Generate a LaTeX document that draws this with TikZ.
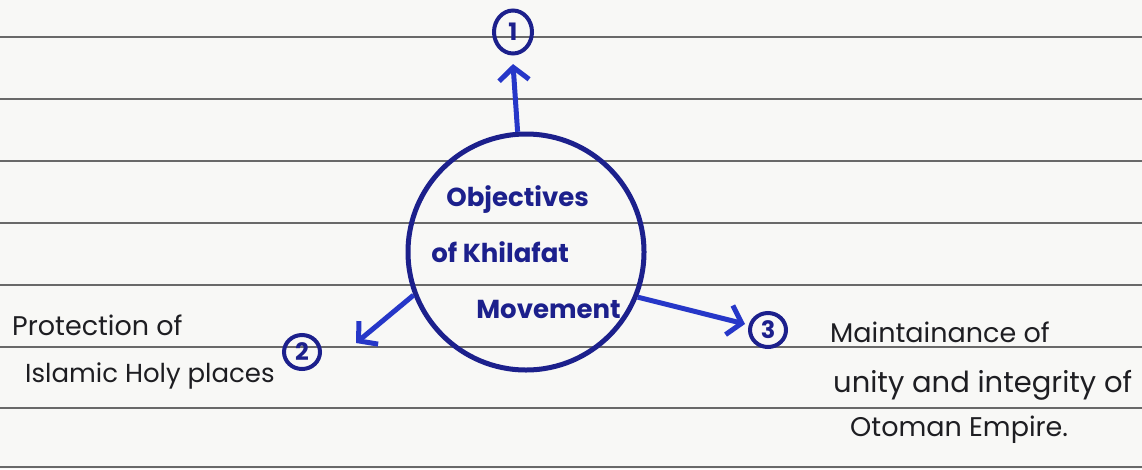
\documentclass[tikz,border=0pt]{standalone}
\usepackage{fontspec}
\setmainfont{Poppins}
\usepackage{xcolor}
\usetikzlibrary{arrows.meta, positioning, calc, shapes.geometric}

\definecolor{ink}{RGB}{28,32,140}
\definecolor{pen}{RGB}{38,55,200}
\definecolor{pencil}{RGB}{30,30,34}
\definecolor{paper}{RGB}{248,248,246}
\definecolor{ruling}{RGB}{105,105,105}

\begin{document}
\begin{tikzpicture}[
    x=1pt, y=-1pt,
    topic/.style={circle, draw=ink, line width=5pt, minimum size=236pt, inner sep=0pt, text=ink, align=left, font=\fontsize{26}{56}\selectfont\bfseries},
    num/.style={ellipse, draw=ink, line width=4pt, minimum width=36pt, minimum height=34pt, inner sep=0pt, text=ink, font=\fontsize{24}{26}\selectfont\bfseries},
    note/.style={text=pencil, anchor=west, inner sep=0pt, font=\fontsize{27}{29}\selectfont},
    line/.style={draw=pen, line width=5pt, -{Straight Barb[length=13pt, width=30pt, line width=5pt]}},
]
% lined paper
\fill[paper] (0,0) rectangle (1142,469);
\useasboundingbox (0,0) rectangle (1142,469);
\foreach \y in {37,99,161,223,285,347,408,467}
  \draw[ruling, line width=2pt] (0,\y) -- (1142,\y);

\node [topic] (topic) at (526,252) {\hspace*{15pt}Objectives\\of Khilafat\\\hspace*{45pt}Movement};
\node [num, minimum width=38pt, minimum height=43pt] (one) at (513,32) {1};
\node [num] (two) at (302,352) {2};
\node [num] (three) at (768,330) {3};

\node [note] (prot) at (12,325) {Protection of};
\node [note, font=\fontsize{26}{28}\selectfont] (islam) at (25,376) {Islamic Holy places};
\node [note] (maint) at (830,332) {Maintainance of};
\node [note, font=\fontsize{29}{31}\selectfont] (unity) at (833,385) {unity and integrity of};
\node [note] (otoman) at (850,430) {Otoman Empire.};

\coordinate (tip1) at (513,64);
\coordinate (tip2) at (356,343);
\coordinate (tip3) at (745,324);
\path [line] (topic.94) -- (tip1);
\path [line] (topic.201) -- (tip2);
\path [line] (topic.-22) -- (tip3);
\end{tikzpicture}
\end{document}
